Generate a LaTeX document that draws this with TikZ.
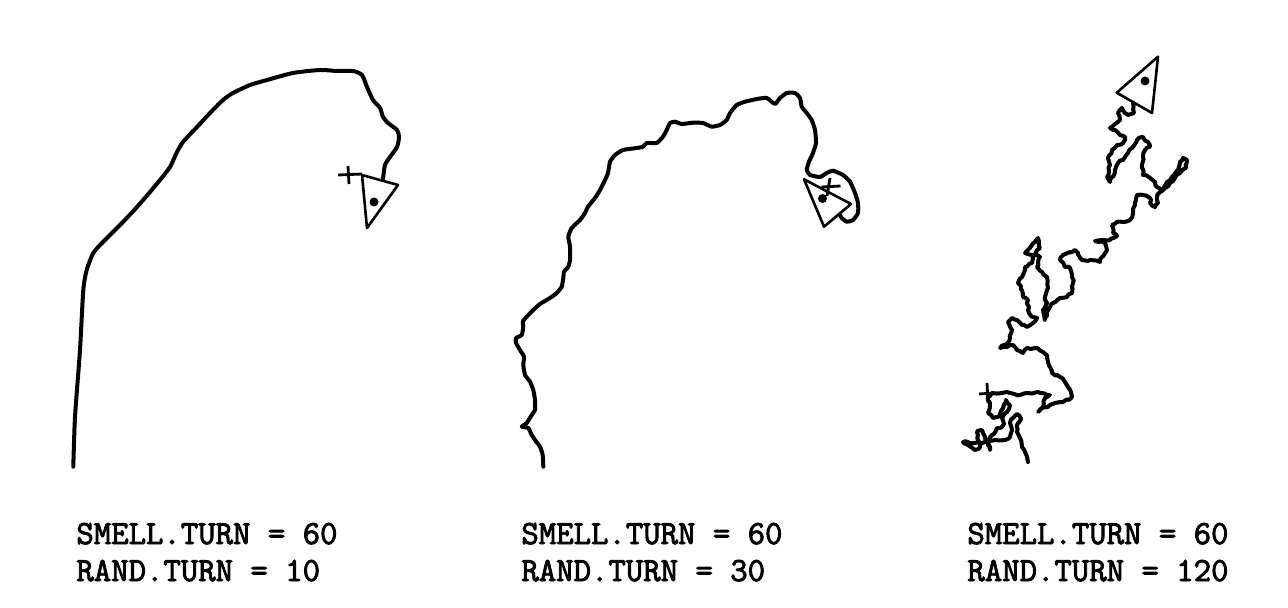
\documentclass[tikz,border=0pt]{standalone}
\usepackage{fontspec}
\usetikzlibrary{decorations.pathmorphing}
\newfontfamily\plotfont{Latin Modern Mono}[FakeBold=2.6]
\tikzset{
  trail/.style={line width=2pt, line join=round, line cap=round},
  jitter/.style={decorate, decoration={random steps, segment length=1.6pt, amplitude=0.55pt}},
  body/.style={line width=1.3pt, line join=round},
  eye/.style={fill=black, draw=none},
  crossmark/.style={line width=1.4pt},
  caption/.style={anchor=base west, inner sep=0pt, font=\plotfont\fontsize{16.9}{19}\selectfont}
}
\begin{document}
\begin{tikzpicture}[x=0.5pt,y=-0.5pt]
\pgfmathsetseed{7}
\useasboundingbox (0,0) rectangle (1288,608);

% ---------- Panel 1 ----------
\draw[trail] plot[smooth, tension=0.4] coordinates {
 (73.3,466.7) (75,417) (80,350) (83.3,290) (86.7,270) (93.3,253) (103,242)
 (122,223) (137,207) (150,192) (160,180) (170,167) (177,152) (183,142)
 (197,127) (210,113) (223,100) (233,93) (250,85) (267,80) (293,73) (320,70)
 (337,71) (353,71) (362,75) (367,87) (373,100) (380,108) (383,117) (388,123)
 (397,130) (399,137) (397,147) (390,157) (385,165) (383,179)};
\coordinate (t1a) at (362,175); \coordinate (t1b) at (398,185); \coordinate (t1c) at (367,228);
\draw[body] (t1a) -- (t1b) -- (t1c) -- cycle;
\fill[eye] (374,202) circle (4.5);
\draw[crossmark] (338,175) -- (362,174) (348,166) -- (349,184);

% ---------- Panel 2 ----------
\draw[trail] plot[smooth, tension=0.3] coordinates {
 (543.3,466.7) (542.7,455) (540,446.7) (535,440) (531.7,435) (528.3,428) (521.7,426.7)
 (526.7,423) (531.7,415) (535,410) (535,400) (533.3,390) (530,381.7) (525,375)
 (523.3,365) (524,356.7) (520,350) (516,343) (516,338) (521.7,335) (523.3,326.7)
 (522.7,321.7) (526.7,316.7) (533.3,310) (540,304) (550,298) (556.7,293) (561.7,286.7)
 (563.3,278) (564,271.7) (568.3,266.7) (570,260) (570,246.7) (568.3,236.7) (571.7,228)
 (580,220) (585,213) (588,206.7) (595,198) (600,190) (605,180) (608,173) (610,161.7)
 (615,155) (623,150) (636.7,148) (643,146.7) (646.7,143) (656.7,143) (663,136.7)
 (666.7,130) (670,123) (675,121.7) (681.7,124) (693,122.7) (703,123) (711.7,126.7)
 (720,125) (726.7,120) (730,113) (736.7,105) (745,101.7) (756.7,99) (766.7,98)
 (775,104) (780,98) (786.7,93) (795,93) (800,98) (801.7,106.7) (806.7,113) (811.7,120)
 (815,130) (816,143) (813,153) (809,161.7) (806.7,170) (810,175) (820,177) (826.7,173)
 (833,170.7) (843,175) (850,181.7) (855,193) (858,203) (858,213) (853,220) (846.7,221.7)
 (841.7,218) (840,215)};
\coordinate (t2a) at (804,179.3); \coordinate (t2b) at (851,204); \coordinate (t2c) at (824,226.7);
\draw[body] (t2a) -- (t2b) -- (t2c) -- cycle;
\fill[eye] (822.5,198.5) circle (4.5);
\draw[crossmark] (821.5,187) -- (840.5,186) (830,178) -- (827,196);

% ---------- Panel 3 ----------
\draw[trail, jitter] (1133,103) -- (1134,113) -- (1128,115) -- (1122,108) -- (1118,113)
 -- (1120,120) -- (1115,124) -- (1110,128) -- (1115,130) -- (1120,135) -- (1125,137)
 -- (1123,143) -- (1117,145) -- (1112,150) -- (1108,158) -- (1110,165) -- (1107,177)
 -- (1110,182) -- (1115,170) -- (1118,163) -- (1123,160) -- (1128,153) -- (1132,148)
 -- (1137,140) -- (1143,137) -- (1148,142) -- (1150,147) -- (1145,150) -- (1143,157)
 -- (1142,165) -- (1143,175) -- (1150,178) -- (1155,182) -- (1157,187) -- (1162,190)
 -- (1167,182) -- (1172,177) -- (1178,170) -- (1180,162) -- (1183,158) -- (1187,160)
 -- (1186,168) -- (1180,173) -- (1175,178) -- (1170,183) -- (1165,188) -- (1160,192)
 -- (1157,197) -- (1158,203) -- (1155,207) -- (1150,203) -- (1150,198) -- (1143,195)
 -- (1137,195) -- (1135,203) -- (1133,213) -- (1130,220) -- (1123,222) -- (1117,222)
 -- (1112,225) -- (1113,233) -- (1117,236) -- (1110,240) -- (1102,240) -- (1095,241)
 -- (1105,243) -- (1107,250) -- (1102,257) -- (1100,262) -- (1090,260) -- (1082,260)
 -- (1078,253) -- (1075,250) -- (1070,252) -- (1063,255) -- (1060,260) -- (1065,267)
 -- (1070,268) -- (1072,275) -- (1073,283) -- (1072,293) -- (1067,297) -- (1060,298)
 -- (1053,303) -- (1050,307) -- (1047,312) -- (1045,320) -- (1043,310) -- (1047,303)
 -- (1045,297) -- (1048,288) -- (1047,277) -- (1042,272) -- (1037,267) -- (1038,262)
 -- (1040,257) -- (1035,255) -- (1040,248) -- (1038,238) -- (1035,242) -- (1028,250)
 -- (1025,253) -- (1032,255) -- (1032,263) -- (1025,267) -- (1022,277) -- (1018,283)
 -- (1022,290) -- (1023,297) -- (1028,300) -- (1028,310) -- (1033,317) -- (1037,318)
 -- (1033,323) -- (1027,327) -- (1022,325) -- (1017,320) -- (1012,318) -- (1008,322)
 -- (1012,330) -- (1010,338) -- (1005,345) -- (1000,348) -- (1007,347) -- (1013,345)
 -- (1017,350) -- (1023,353) -- (1027,348) -- (1035,348) -- (1043,352) -- (1047,355)
 -- (1048,362) -- (1050,367) -- (1052,373) -- (1057,375) -- (1062,378) -- (1068,387)
 -- (1072,397) -- (1063,402) -- (1055,403) -- (1048,407) -- (1042,408) -- (1038,412)
 -- (1043,407) -- (1045,398) -- (1050,395) -- (1038,392) -- (1027,393) -- (1020,395)
 -- (1010,393) -- (1002,393) -- (992,393) -- (988,397) -- (990,407) -- (988,413)
 -- (993,418) -- (998,417) -- (1003,408) -- (1006,400) -- (1010,405) -- (1007,412)
 -- (1002,418) -- (1004,424) -- (1000,428) -- (997,428) -- (992,435) -- (988,442)
 -- (990,450) -- (988,445) -- (985,437) -- (982,430) -- (977,432) -- (978,440)
 -- (980,447) -- (975,450) -- (968,445) -- (963,442) -- (975,443) -- (985,442)
 -- (995,440) -- (1005,440) -- (1010,437) -- (1012,430) -- (1010,423) -- (1013,418)
 -- (1017,414) -- (1021,419) -- (1018,423) -- (1017,432) -- (1020,438) -- (1022,447)
 -- (1025,452) -- (1028,462);
\coordinate (t3a) at (1158,56.7); \coordinate (t3b) at (1116.7,92.7); \coordinate (t3c) at (1152,113);
\draw[body] (t3a) -- (t3b) -- (t3c) -- cycle;
\fill[eye] (1145,81) circle (4.5);
\draw[crossmark] (979,394) -- (994,393) (987,383) -- (988,403);

% ---------- Captions ----------
\node[caption] (c1a) at (76,544) {SMELL.TURN = 60};
\node[caption] (c1b) at (76,581) {RAND.TURN = 10};
\node[caption] (c2a) at (521,544) {SMELL.TURN = 60};
\node[caption] (c2b) at (521,581) {RAND.TURN = 30};
\node[caption] (c3a) at (967,544) {SMELL.TURN = 60};
\node[caption] (c3b) at (967,581) {RAND.TURN = 120};
\end{tikzpicture}
\end{document}
